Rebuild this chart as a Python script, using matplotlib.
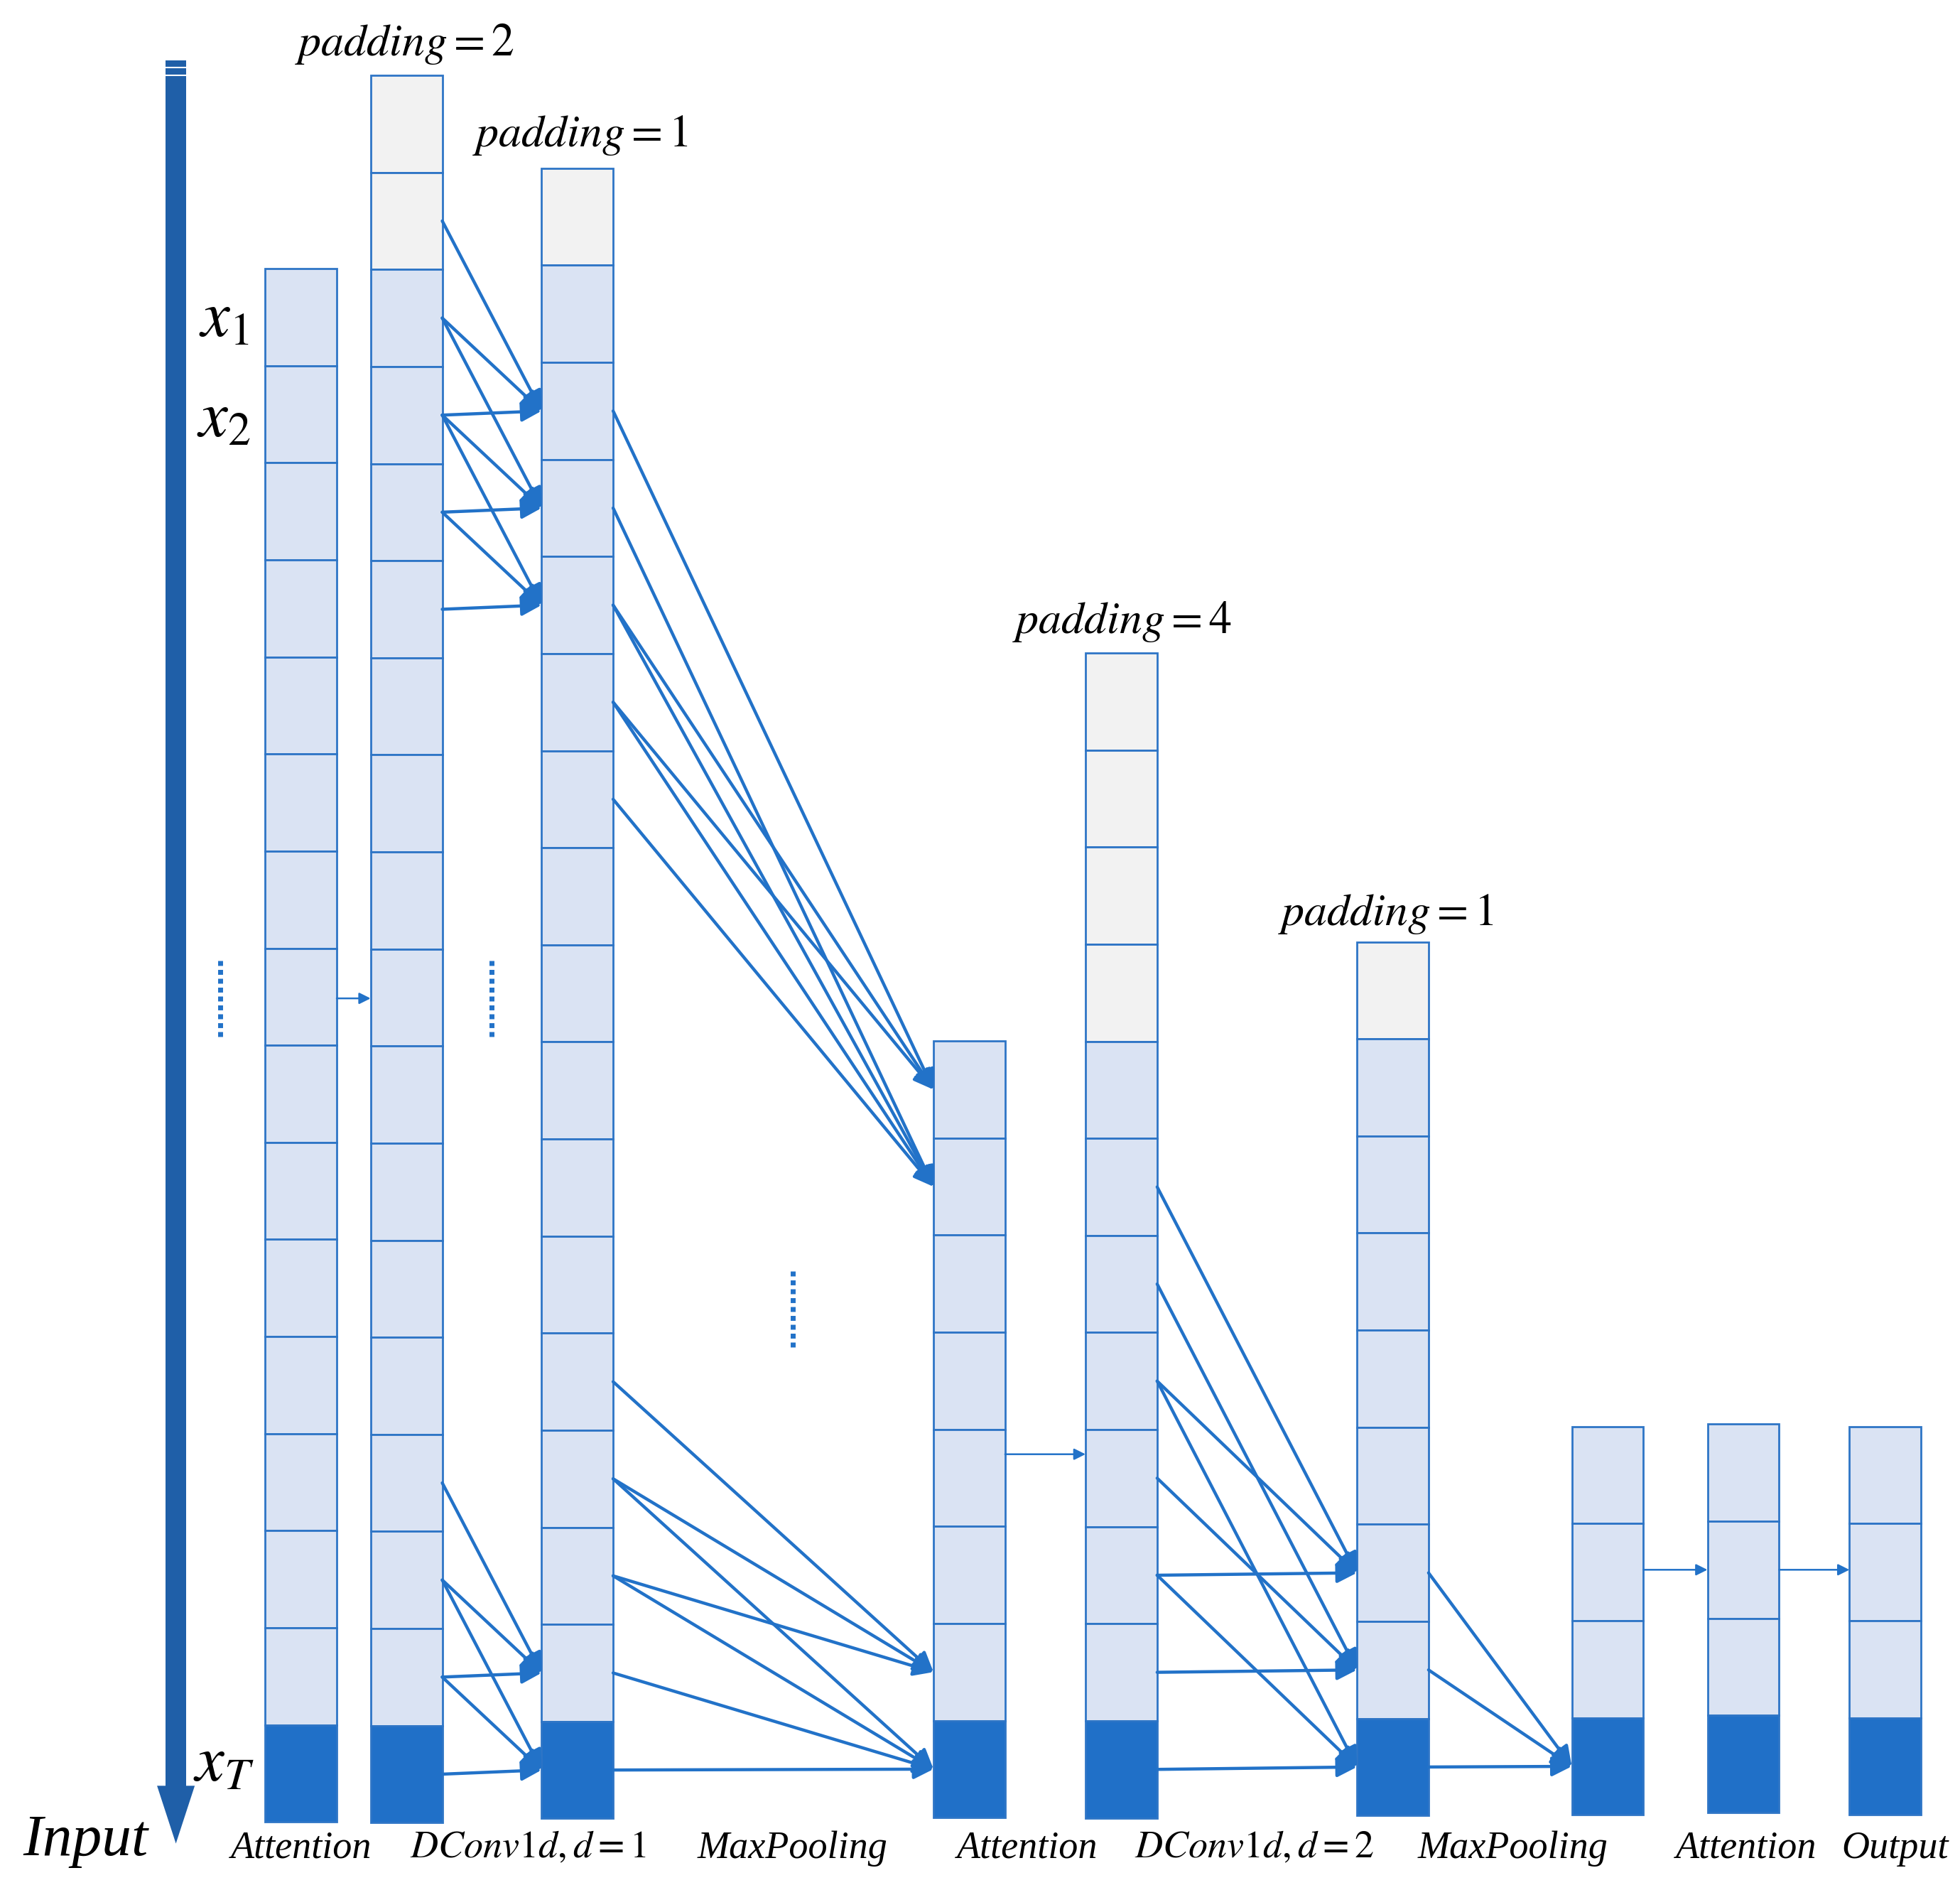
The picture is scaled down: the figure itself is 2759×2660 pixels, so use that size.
import matplotlib
matplotlib.use("Agg")
import matplotlib.pyplot as plt
from matplotlib.patches import Rectangle, Polygon

matplotlib.rcParams.update({"mathtext.fontset": "stix", "font.family": "Liberation Serif"})

LIGHT, PAD, DARK, EDGE, ARC = "#dae3f3", "#f2f2f2", "#2070c8", "#2e75c6", "#2272c8"
CELL = 77.3

# columns: left x, top y, n padding cells, n data cells (last data cell dark)
col_x   = [211, 295, 431, 743, 864, 1080, 1251, 1359, 1472]
col_top = [214, 60, 134, 829, 520, 750, 1136, 1134, 1136]
col_pad = [0, 2, 1, 0, 4, 1, 0, 0, 0]
col_n   = [16, 16, 16, 8, 8, 8, 4, 4, 4]
W = 57

# connections: (src column, src cell idx, dst column, dst cell idx)  idx counted from column top
links = (
    [(1, s, 2, t) for t in (2, 3, 4) for s in (t - 1, t, t + 1)]
    + [(1, s, 2, t) for t in (15, 16) for s in (t - 1, t, t + 1)]
    + [(2, s, 3, 0) for s in (2, 4, 5)] + [(2, s, 3, 1) for s in (3, 4, 5, 6)]
    + [(2, s, 3, 6) for s in (12, 13, 14)] + [(2, s, 3, 7) for s in (13, 14, 15, 16)]
    + [(4, s, 5, t) for t in (6, 7, 8) for s in (t - 1, t + 1, t + 3)]
    + [(5, s, 6, 3) for s in (6, 7, 8)]
)
thin_links = [(0, 795, 1), (3, 1158, 4), (6, 1250, 7), (7, 1250, 8)]

labels = ["Attention", r"$DConv1d,d=1$", "MaxPooling", "Attention", r"$DConv1d,d=2$",
          "MaxPooling", "Attention", "Output"]
label_x = [240, 420, 631, 818, 998, 1204, 1390, 1508]
pad_labels = [(1, r"$padding=2$", 322, 35), (2, r"$padding=1$", 462, 108),
              (4, r"$padding=4$", 893, 495), (5, r"$padding=1$", 1103, 728)]

fig = plt.figure(figsize=(27.59, 26.6), dpi=100)
ax = fig.add_axes([0, 0, 1, 1])
ax.set_xlim(0, 1560); ax.set_ylim(1505, 0); ax.axis("off")

def cy(c, i):
    return col_top[c] + CELL * (i + 0.5)

for c in range(len(col_x)):
    total = col_pad[c] + col_n[c]
    for i in range(total):
        fc = PAD if i < col_pad[c] else (DARK if i == total - 1 else LIGHT)
        ax.add_patch(Rectangle((col_x[c], col_top[c] + CELL * i), W, CELL, fc=fc, ec=EDGE, lw=2))

for s_c, s_i, d_c, d_i in links:
    ax.annotate("", xy=(col_x[d_c], cy(d_c, d_i)), xytext=(col_x[s_c] + W, cy(s_c, s_i)),
                arrowprops=dict(arrowstyle="-|>", color=ARC, lw=3.2, mutation_scale=42,
                                shrinkA=0, shrinkB=0))
for s_c, y, d_c in thin_links:
    ax.annotate("", xy=(col_x[d_c], y), xytext=(col_x[s_c] + W, y),
                arrowprops=dict(arrowstyle="-|>", color=ARC, lw=1.8, mutation_scale=24,
                                shrinkA=0, shrinkB=0))

# input time arrow
ax.add_patch(Rectangle((132, 48), 16, 1380, fc="#1f5fa8", ec="none"))
for yy in (54, 60):
    ax.plot([132, 148], [yy, yy], color="white", lw=1.5)
ax.add_patch(Polygon([(125, 1422), (155, 1422), (140, 1468)], closed=True, fc="#1f5fa8", ec="none"))

for t, y in [(r"$x_1$", 255), (r"$x_2$", 335), (r"$x_T$", 1405)]:
    ax.text(178, y, t, fontsize=66, ha="center", va="center")
for x, y0 in [(175, 765), (391, 765), (631, 1012)]:
    ax.plot([x, x], [y0, y0 + 63], color=ARC, lw=5, ls=(0, (1, 0.8)))

for c, t, x, y in pad_labels:
    ax.text(x, y, t, fontsize=46, ha="center", va="center")
for t, x in zip(labels, label_x):
    ax.text(x, 1472, t, fontsize=39, ha="center", va="center", style="italic")
ax.text(68, 1466, "Input", fontsize=60, ha="center", va="center", style="italic")

fig.savefig("out.png", dpi=100, facecolor="white")
